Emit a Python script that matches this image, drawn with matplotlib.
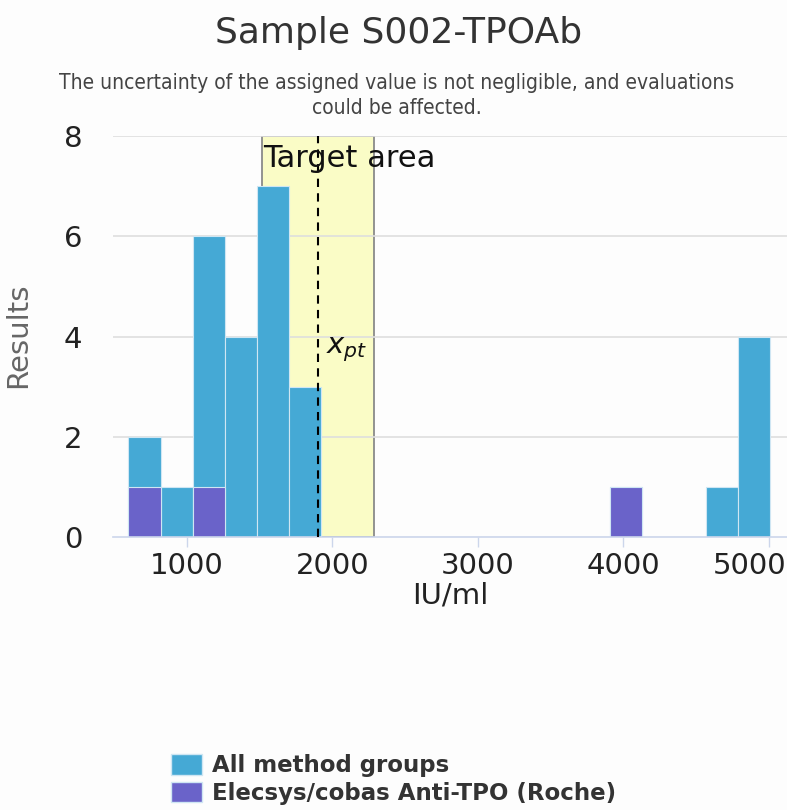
import numpy as np
import matplotlib.pyplot as plt
from matplotlib.patches import Patch
from matplotlib.transforms import ScaledTranslation

# histogram of reported results (IU/ml)
bin_start = 600
bin_width = 220.3
all_counts = [2, 1, 6, 4, 7, 3, 0, 0, 0, 0, 0, 0, 0, 0, 0, 1, 0, 0, 1, 4]
roche_counts = [1, 0, 1, 0, 0, 0, 0, 0, 0, 0, 0, 0, 0, 0, 0, 1, 0, 0, 0, 0]

x_pt = 1904
target_low, target_high = 1519, 2288

series_names = ['All method groups', 'Elecsys/cobas Anti-TPO (Roche)']
blue = '#45a9d5'
purple = '#6a63c9'

W, H = 787, 810
fig = plt.figure(figsize=(W / 100, H / 100), dpi=100, facecolor='#fdfdfd')
ax = fig.add_axes([113 / W, 1 - 537 / H, (787 - 113) / W, (537 - 136) / H])
ax.set_facecolor('#fdfdfd')

edges = bin_start + bin_width * np.arange(len(all_counts))

# target area and grid
ax.axvspan(target_low, target_high, facecolor='#fafcc6', edgecolor='#8a8a8a', lw=1.3, zorder=0.8)
for y in [2, 4, 6, 8]:
    ax.axhline(y, color='#dedede', lw=1.2, zorder=1)

ax.bar(edges, all_counts, width=bin_width, align='edge', color=blue,
       edgecolor='#cfe6f3', lw=0.8, zorder=2)
ax.bar(edges, roche_counts, width=bin_width, align='edge', color=purple,
       edgecolor='#cfe6f3', lw=0.8, zorder=2.5)

ax.axvline(x_pt, color='black', lw=1.5, ls=(0, (4, 3)), zorder=3)
ax.text(target_low + 5, 7.56, 'Target area', fontsize=22, va='center', ha='left', color='#111111', zorder=4)
ax.text(1960, 3.73, r'$x_{pt}$', fontsize=21, va='center', ha='left', color='#111111', zorder=4)

ax.set_xlim(494, 5123)
ax.set_ylim(0, 8)
ax.set_xticks([1000, 2000, 3000, 4000, 5000])
ax.set_yticks([0, 2, 4, 6, 8])
for s in ['top', 'right', 'left']:
    ax.spines[s].set_visible(False)
ax.spines['bottom'].set_color('#ccd6eb')
ax.spines['bottom'].set_linewidth(1.2)
ax.tick_params(axis='x', length=7.5, width=1, color='#ccd6eb', labelsize=21, labelcolor='#222222', pad=3)
ax.tick_params(axis='y', length=0, labelsize=21, labelcolor='#222222', pad=22)

# last x label is pushed left so it stays inside the picture
last = ax.get_xticklabels()[-1]
last.set_ha('right')
last.set_transform(last.get_transform() + ScaledTranslation(17 / 100, 0, fig.dpi_scale_trans))

ax.set_xlabel('IU/ml', fontsize=21, color='#222222')
ax.xaxis.set_label_coords(0.5, -0.145)
ax.xaxis.label.set_va('center')
ax.set_ylabel('Results', fontsize=21, color='#666666')
ax.yaxis.set_label_coords(-0.12, 0.504)

fig.text(399 / W, 1 - 33 / H, 'Sample S002-TPOAb', fontsize=26, color='#333333', ha='center', va='center')
fig.text(397 / W, 1 - 83 / H, 'The uncertainty of the assigned value is not negligible, and evaluations',
         fontsize=15, color='#444444', ha='center', va='center', fontstretch='condensed')
fig.text(397 / W, 1 - 108 / H, 'could be affected.',
         fontsize=15, color='#444444', ha='center', va='center', fontstretch='condensed')

handles = [Patch(facecolor=blue, edgecolor='#cfe6f3'), Patch(facecolor=purple, edgecolor='#cfe6f3')]
fig.legend(handles, series_names, loc='upper left', bbox_to_anchor=(171 / W, 1 - 754 / H),
           frameon=False, borderpad=0, borderaxespad=0, handlelength=1.35, handleheight=1.0,
           handletextpad=0.45, labelspacing=0.2,
           prop={'size': 16.5, 'weight': 'bold'}, labelcolor='#333333')

fig.savefig('out.png', dpi=100, facecolor=fig.get_facecolor())
